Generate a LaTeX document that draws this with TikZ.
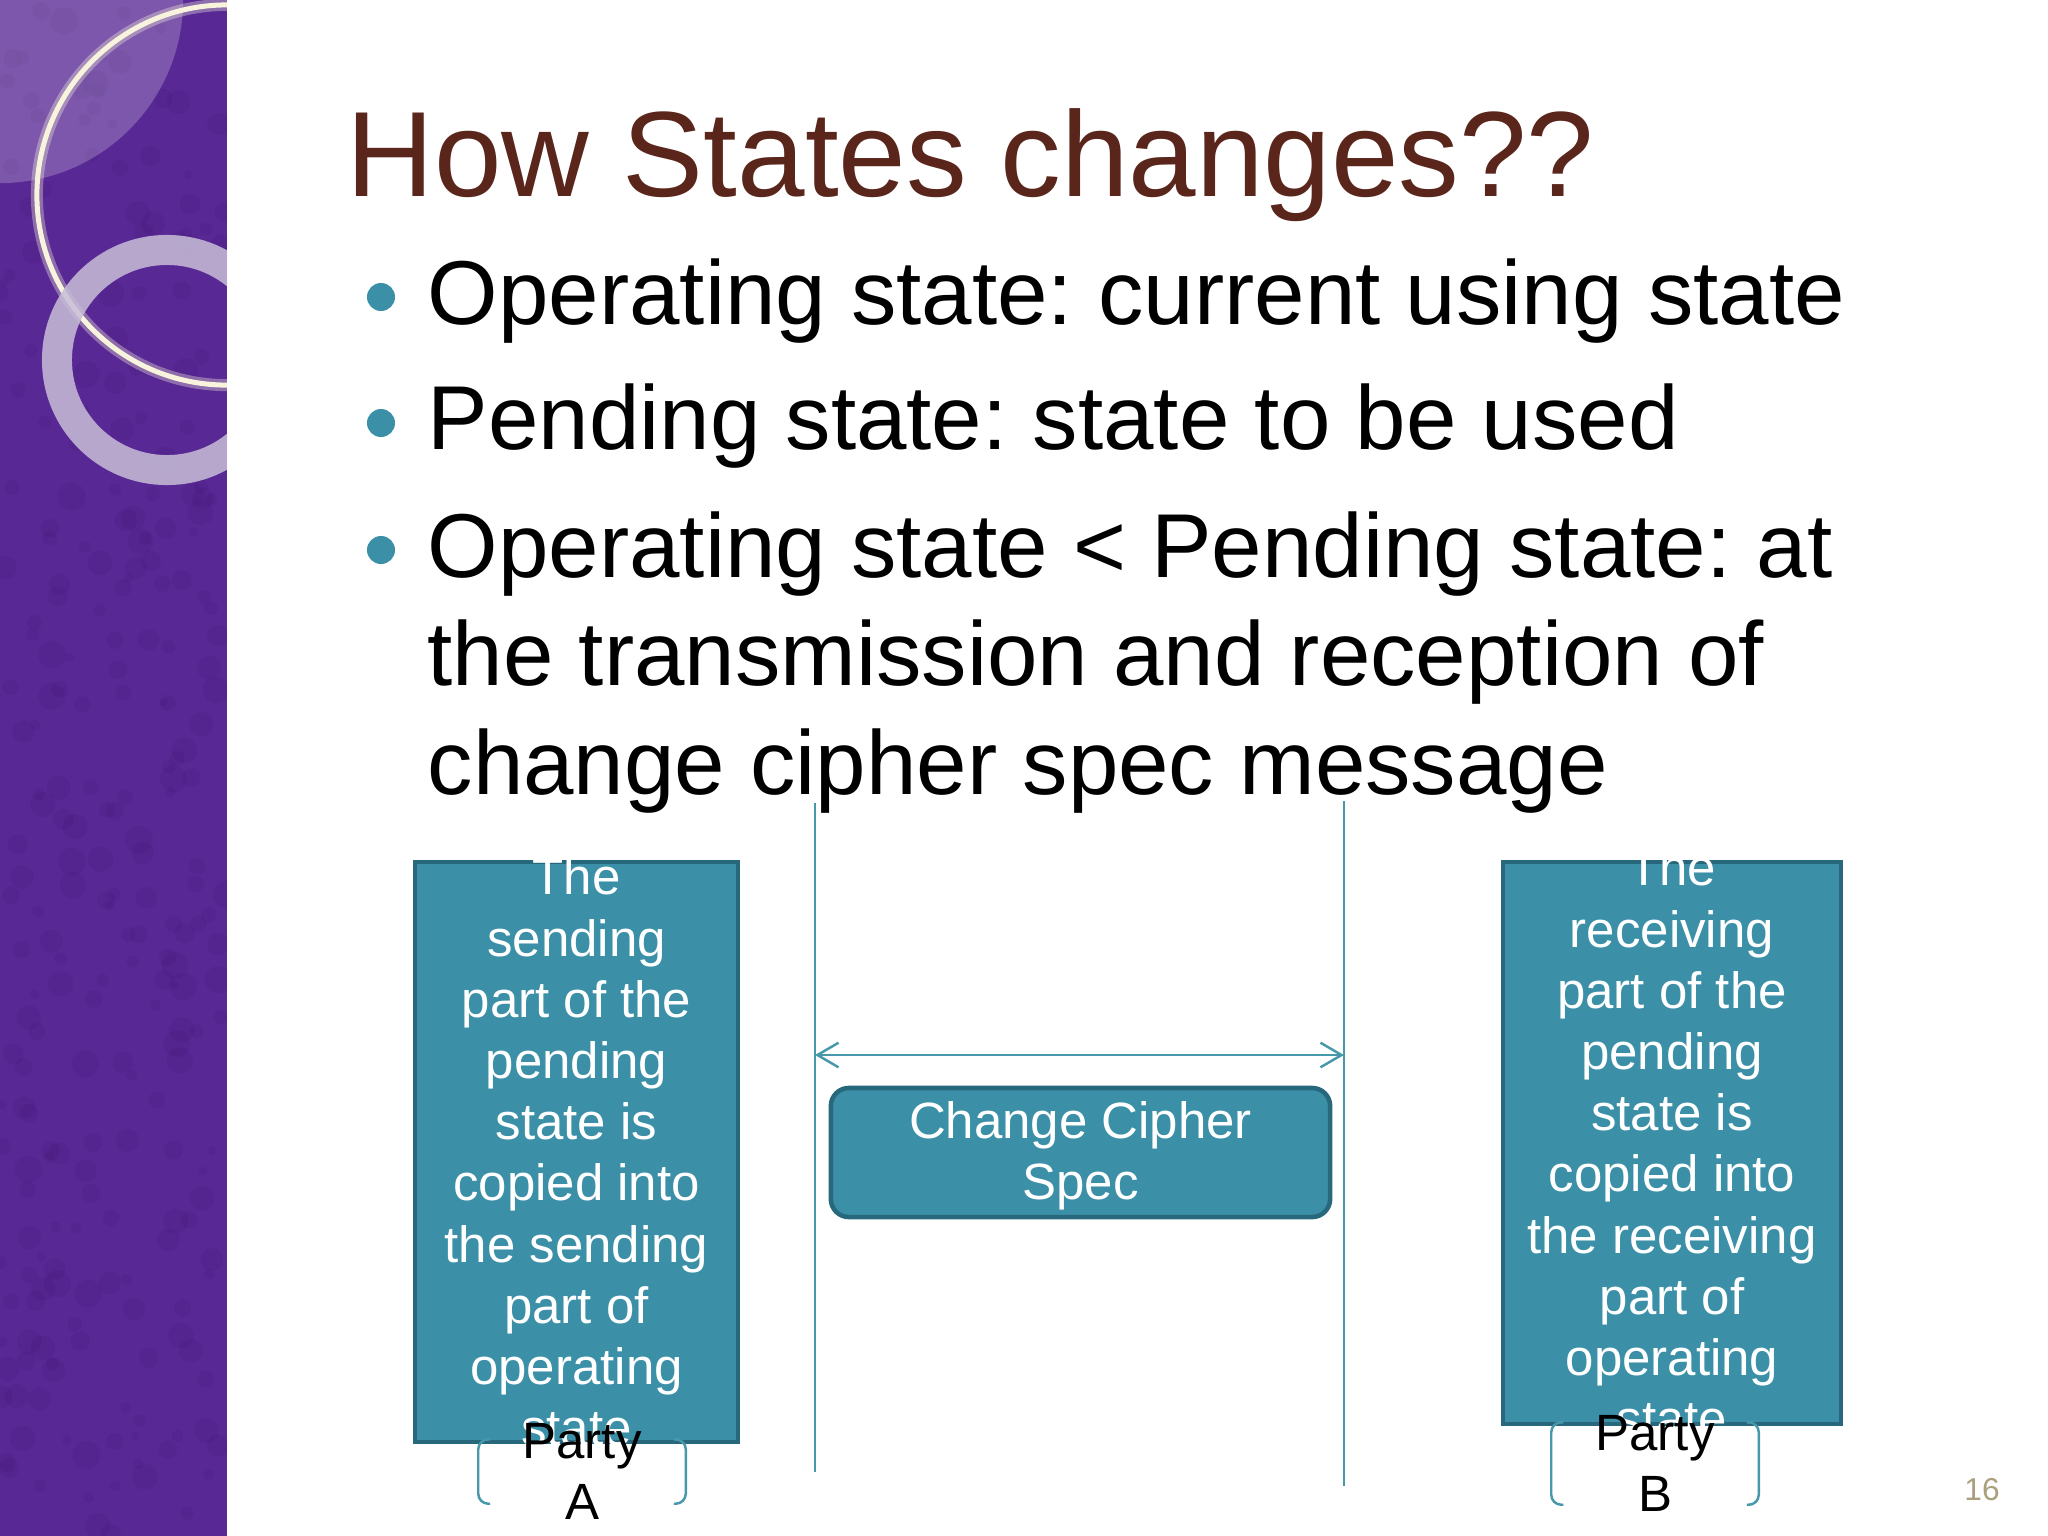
\documentclass[tikz,border=0pt]{standalone}
\usepackage{fontspec}
\setmainfont{Liberation Sans}
\usetikzlibrary{arrows.meta}
\frenchspacing

\definecolor{sidepurple}{RGB}{88,40,148}
\definecolor{sidedark}{RGB}{60,22,110}
\definecolor{titlebrown}{RGB}{90,38,28}
\definecolor{boxteal}{RGB}{59,144,168}
\definecolor{boxedge}{RGB}{40,104,124}
\definecolor{lineteal}{RGB}{72,152,172}
\definecolor{ringcream}{RGB}{248,243,220}
\definecolor{ringlilac}{RGB}{200,190,216}
\definecolor{pagegrey}{RGB}{170,160,125}

\begin{document}
\begin{tikzpicture}[x=0.01cm, y=-0.01cm,
    bullettext/.style={anchor=base west, inner sep=0, font=\fontsize{25.8}{30.9}\selectfont},
    dot/.style={circle, fill=boxteal, minimum size=0.28cm, inner sep=0},
    statebox/.style={draw=boxedge, line width=1.3pt, fill=boxteal},
    boxtext/.style={align=center, inner sep=0, text=white, font=\fontsize{14.5}{17.4}\selectfont},
    partytext/.style={align=center, inner sep=0, text=black, font=\fontsize{14.5}{17.4}\selectfont},
    bracketline/.style={draw=lineteal, line width=0.7pt, rounded corners=0.1cm},
    lifeline/.style={draw=lineteal, line width=0.7pt}]

  \fill[white] (0,0) rectangle (2048,1536);
  \useasboundingbox (0,0) rectangle (2048,1536);

  % side bar
  \begin{scope}
    \clip (0,0) rectangle (227,1536);
    \fill[sidepurple] (0,0) rectangle (227,1536);
    \pgfmathsetseed{7}
    \foreach \i in {1,...,260}
      \fill[sidedark, opacity=0.14] (rnd*227, rnd*1536) circle [radius={(0.04+rnd*0.10)*1cm}];
    \fill[white, opacity=0.22] (0,0) circle (1.83cm);
    \draw[ringcream, opacity=0.35, line width=0.12cm] (227,195) circle (1.90cm);
    \draw[ringcream, line width=0.05cm] (227,195) circle (1.90cm);
    \draw[ringlilac, opacity=0.85, line width=0.30cm] (167,360) circle (1.10cm);
  \end{scope}

  % title and bullets
  \node[anchor=base west, inner sep=0, text=titlebrown, font=\fontsize{34.5}{40}\selectfont] (title) at (346,196) {How States changes??};

  \node[dot] (d1) at (381,297) {};
  \node[dot] (d2) at (381,423) {};
  \node[dot] (d3) at (381,550) {};
  \node[bullettext] (b1) at (427,324) {Operating state: current using state};
  \node[bullettext] (b2) at (427,449) {Pending state: state to be used};
  \node[bullettext, text width=15cm, align=flush left] (b3) at (427,577)
       {Operating state < Pending state: at\\ the transmission and reception of\\ change cipher spec message};

  % lifelines
  \coordinate (lt) at (815,803);
  \coordinate (lb) at (815,1472);
  \coordinate (rt) at (1344,801);
  \coordinate (rb) at (1344,1486);
  \coordinate (la) at (815,1055);
  \coordinate (ra) at (1344,1055);
  \draw[lifeline] (lt) -- (lb);
  \draw[lifeline] (rt) -- (rb);
  \draw[lifeline, {Straight Barb[length=6pt, width=7pt]}-{Straight Barb[length=6pt, width=7pt]}] (la) -- (ra);

  % boxes
  \node[statebox, minimum width=3.23cm, minimum height=5.80cm] (boxA) at (576.5,1152) {};
  \node[statebox, minimum width=3.38cm, minimum height=5.62cm] (boxB) at (1672,1143) {};
  \node[statebox, rounded corners=0.18cm, minimum width=4.99cm, minimum height=1.29cm] (msg) at (1080.5,1152.5) {};

  \node[boxtext] (txtA) at (boxA.center) {The\\ sending\\ part of the\\ pending\\ state is\\ copied into\\ the sending\\ part of\\ operating\\ state};
  \node[boxtext] (txtB) at (boxB.center) {The\\ receiving\\ part of the\\ pending\\ state is\\ copied into\\ the receiving\\ part of\\ operating\\ state};
  \node[boxtext] (txtM) at ([yshift=-0.03cm]msg.center) {Change Cipher\\ Spec};

  % parties
  \node[minimum width=2.06cm, minimum height=0.63cm, inner sep=0] (brA) at (582,1471.5) {};
  \node[minimum width=2.06cm, minimum height=0.81cm, inner sep=0] (brB) at (1655,1463.5) {};
  \draw[bracketline] ([xshift=0.12cm]brA.north west) -| (brA.south west) -- ([xshift=0.12cm]brA.south west);
  \draw[bracketline] ([xshift=-0.12cm]brA.north east) -| (brA.south east) -- ([xshift=-0.12cm]brA.south east);
  \draw[bracketline] ([xshift=0.12cm]brB.north west) -| (brB.south west) -- ([xshift=0.12cm]brB.south west);
  \draw[bracketline] ([xshift=-0.12cm]brB.north east) -| (brB.south east) -- ([xshift=-0.12cm]brB.south east);
  \node[partytext] (partyA) at (brA.center) {Party\\ A};
  \node[partytext] (partyB) at (brB.center) {Party\\ B};

  % page number
  \node[anchor=base, inner sep=0, text=pagegrey, font=\fontsize{9}{11}\selectfont] (page) at (1982,1500) {16};
\end{tikzpicture}
\end{document}
